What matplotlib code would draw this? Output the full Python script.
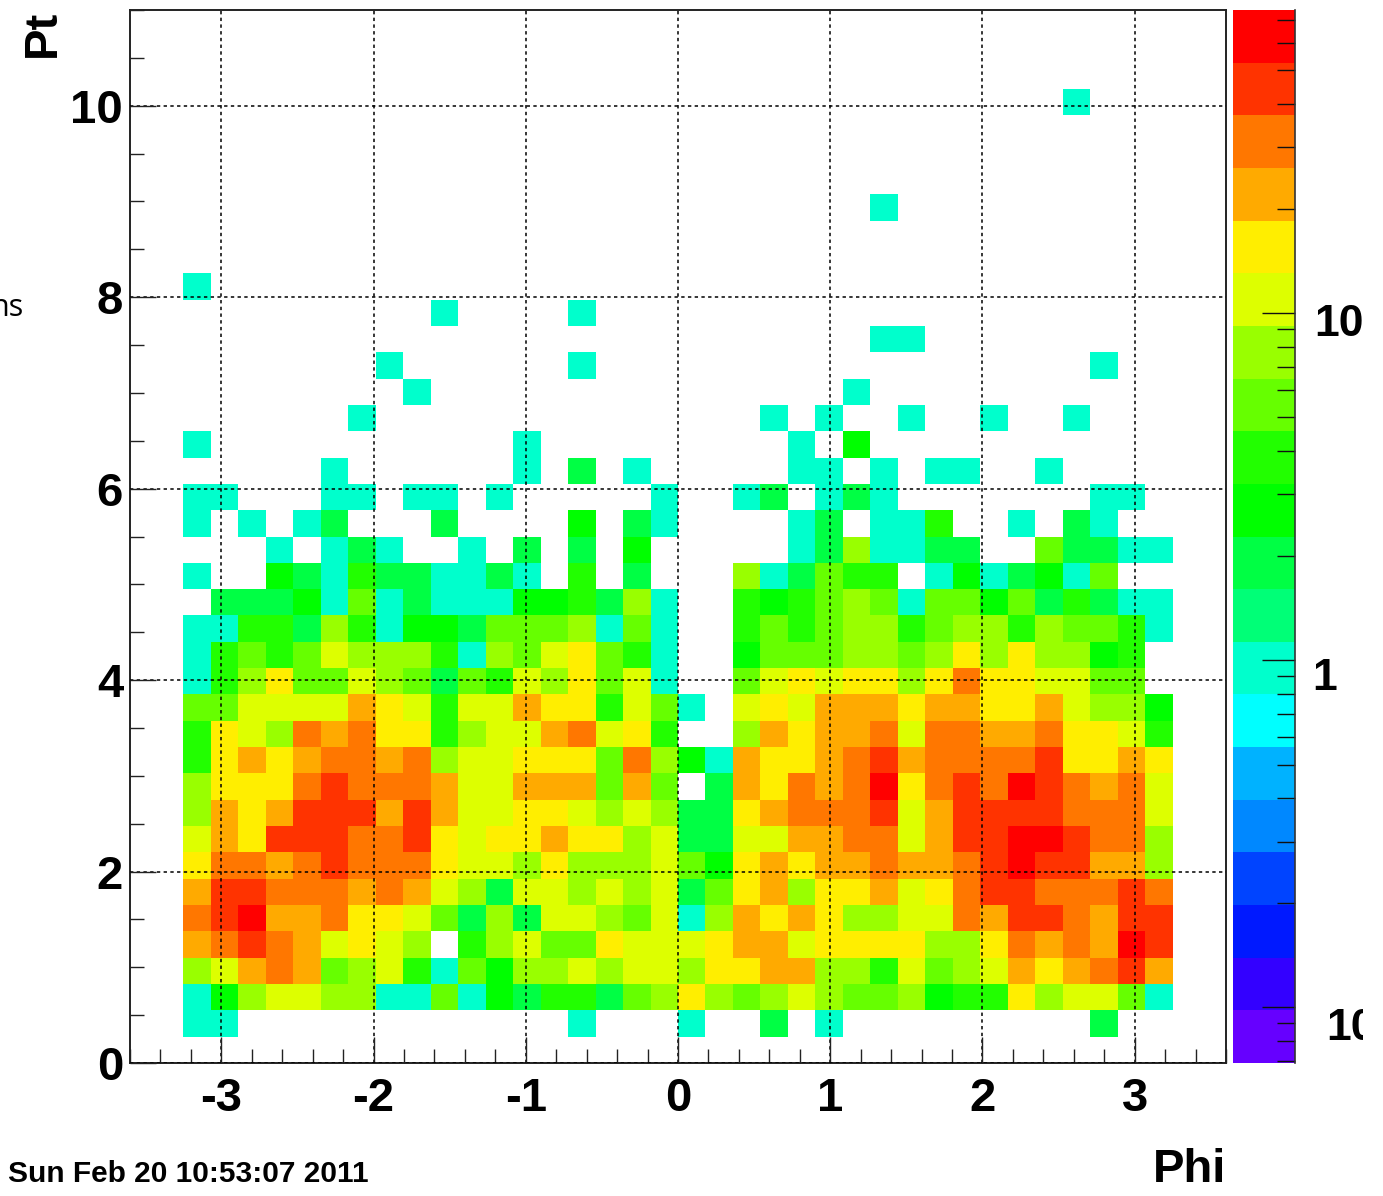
import numpy as np
import matplotlib
matplotlib.use("Agg")
import matplotlib.pyplot as plt
from matplotlib.colors import ListedColormap, BoundaryNorm
from matplotlib.ticker import LogLocator, MultipleLocator, NullFormatter
from matplotlib.transforms import Bbox

plt.rcParams['font.family'] = ['Liberation Sans', 'DejaVu Sans']
plt.rcParams['axes.unicode_minus'] = False

W, H = 1383, 1196
palette = ['#6600FF', '#3300FF', '#0019FF', '#0044FF', '#0088FF', '#00B2FF', '#00FFFF', '#00FFCC',
           '#00FF77', '#00FF44', '#00FF00', '#22FF00', '#66FF00', '#99FF00', '#DDFF00', '#FFEE00',
           '#FFAA00', '#FF7700', '#FF3300', '#FF0000']

phi_min, phi_max, n_phi = -3.25, 3.25, 36
pt_min, pt_max, n_pt = 0.0, 11.0, 40

row_01 = [1,1,0,0,0,0,0,0,0,0,0,0,0,0,1,0,0,0, 1,0,0,2,0,1,0,0,0,0,0,0,0,0,0,2,0,0]
row_02 = [1,3,7,10,10,7,7,1,1,5,1,3,2,4,4,2,5,7, 15,7,5,7,10,7,5,5,7,3,4,4,15,7,10,10,5,1]
row_03 = [7,10,22,30,22,5,7,10,4,1,5,3,7,7,10,7,10,10, 7,15,15,22,22,7,7,4,10,5,7,10,22,15,22,30,42,22]
row_04 = [22,30,42,30,22,10,15,10,7,0,4,7,10,5,5,15,10,10, 10,15,22,22,10,15,15,15,15,7,7,15,30,22,30,22,60,42]
row_05 = [30,42,60,22,22,30,15,15,10,5,2,7,2,10,10,7,5,10, 1,7,22,15,22,15,7,7,10,10,30,22,42,42,30,22,42,42]
row_06 = [22,42,42,30,30,30,22,30,22,10,7,2,10,10,7,10,7,10, 2,5,15,22,7,15,15,22,10,15,30,42,42,30,30,30,42,30]
row_07 = [15,30,30,22,30,42,30,30,30,15,10,10,7,15,7,7,7,10, 5,3,15,22,15,22,22,30,22,22,30,42,60,42,42,22,22,7]
row_08 = [10,22,15,42,42,42,30,30,42,15,10,15,15,22,15,15,7,10, 2,2,10,10,22,22,30,30,10,22,42,42,60,60,42,30,30,7]
row_09 = [7,22,15,22,42,42,42,22,42,22,10,10,15,15,10,7,10,7, 2,2,15,22,30,30,30,42,10,22,42,42,42,42,30,30,30,10]
row_10 = [7,15,15,15,30,42,30,30,30,22,10,10,22,22,22,5,22,5, 0,2,22,15,30,22,30,60,15,30,42,30,60,42,30,22,30,10]
row_11 = [4,15,22,15,22,30,30,22,30,7,10,10,15,15,15,5,30,7, 3,1,22,15,15,22,30,42,22,30,30,30,30,42,15,15,22,15]
row_12 = [4,15,10,7,30,22,30,15,15,4,7,10,10,22,30,10,15,4, 0,0,7,22,15,22,22,30,10,30,30,22,22,30,15,15,10,4]
row_13 = [5,5,10,10,10,10,22,15,10,4,10,10,22,15,15,4,10,5, 1,0,10,15,10,22,22,22,15,22,22,15,15,22,10,7,7,3]
row_14 = [1,4,7,15,5,5,10,7,5,2,5,4,10,7,15,5,10,1, 0,0,5,10,15,10,15,15,7,15,30,15,15,10,10,5,5,0]
row_15 = [1,4,5,4,5,10,7,7,7,4,1,7,5,10,15,5,4,1, 0,0,3,5,5,5,7,7,5,7,15,7,15,7,7,3,4,0]
row_16 = [1,1,4,4,2,7,4,1,3,3,2,5,5,5,7,1,5,1, 0,0,4,5,4,5,7,7,4,5,7,7,4,7,5,5,4,1]
row_17 = [0,2,2,2,3,1,5,1,2,1,1,1,3,3,4,2,7,1, 0,0,4,3,4,5,7,5,1,5,5,3,5,2,4,2,1,1]
row_18 = [1,0,0,3,2,1,4,2,2,1,1,2,1,0,4,0,2,0, 0,0,7,1,2,5,4,4,0,1,3,1,2,3,1,5,0,0]
row_19 = [0,0,0,1,0,1,2,1,0,0,1,0,2,0,2,0,3,0, 0,0,0,0,1,2,7,1,1,2,2,0,0,5,2,2,1,1]
row_20 = [1,0,1,0,1,2,0,0,0,2,0,0,0,0,3,0,2,1, 0,0,0,0,1,2,0,1,1,4,0,0,1,0,2,1,0,0]
row_21 = [1,1,0,0,0,1,1,0,1,1,0,1,0,0,0,0,0,1, 0,0,1,2,0,1,2,1,0,0,0,0,0,0,0,1,1,0]
row_22 = [0,0,0,0,0,1,0,0,0,0,0,0,1,0,2,0,1,0, 0,0,0,0,1,1,0,1,0,1,1,0,0,1,0,0,0,0]
row_23 = [1,0,0,0,0,0,0,0,0,0,0,0,1,0,0,0,0,0, 0,0,0,0,1,0,3,0,0,0,0,0,0,0,0,0,0,0]
row_24 = [0,0,0,0,0,0,1,0,0,0,0,0,0,0,0,0,0,0, 0,0,0,1,0,1,0,0,1,0,0,1,0,0,1,0,0,0]
row_25 = [0,0,0,0,0,0,0,0,1,0,0,0,0,0,0,0,0,0, 0,0,0,0,0,0,1,0,0,0,0,0,0,0,0,0,0,0]
row_26 = [0,0,0,0,0,0,0,1,0,0,0,0,0,0,1,0,0,0, 0,0,0,0,0,0,0,0,0,0,0,0,0,0,0,1,0,0]
row_27 = [0,0,0,0,0,0,0,0,0,0,0,0,0,0,0,0,0,0, 0,0,0,0,0,0,0,1,1,0,0,0,0,0,0,0,0,0]
row_28 = [0,0,0,0,0,0,0,0,0,1,0,0,0,0,1,0,0,0, 0,0,0,0,0,0,0,0,0,0,0,0,0,0,0,0,0,0]
row_29 = [1,0,0,0,0,0,0,0,0,0,0,0,0,0,0,0,0,0, 0,0,0,0,0,0,0,0,0,0,0,0,0,0,0,0,0,0]
row_32 = [0,0,0,0,0,0,0,0,0,0,0,0,0,0,0,0,0,0, 0,0,0,0,0,0,0,1,0,0,0,0,0,0,0,0,0,0]
row_36 = [0,0,0,0,0,0,0,0,0,0,0,0,0,0,0,0,0,0, 0,0,0,0,0,0,0,0,0,0,0,0,0,0,1,0,0,0]

filled = {1: row_01, 2: row_02, 3: row_03, 4: row_04, 5: row_05, 6: row_06, 7: row_07, 8: row_08,
          9: row_09, 10: row_10, 11: row_11, 12: row_12, 13: row_13, 14: row_14, 15: row_15,
          16: row_16, 17: row_17, 18: row_18, 19: row_19, 20: row_20, 21: row_21, 22: row_22,
          23: row_23, 24: row_24, 25: row_25, 26: row_26, 27: row_27, 28: row_28, 29: row_29,
          32: row_32, 36: row_36}

counts = np.zeros((n_pt, n_phi))
for r, vals in filled.items():
    counts[r] = vals
counts = np.ma.masked_equal(counts, 0)

phi_edges = np.linspace(phi_min, phi_max, n_phi + 1)
pt_edges = np.linspace(pt_min, pt_max, n_pt + 1)

log_lo, log_hi = -1.161, 1.873
bounds = np.logspace(log_lo, log_hi, 21)
cmap = ListedColormap(palette)
norm = BoundaryNorm(bounds, 20)

fig = plt.figure(figsize=(W / 100, H / 100), dpi=100)


def box(l, t, r, b):
    return [l / W, 1 - b / H, (r - l) / W, (b - t) / H]


ax = fig.add_axes(box(130, 10, 1226, 1063))
ax.pcolormesh(phi_edges, pt_edges, counts, cmap=cmap, norm=norm, rasterized=True)
ax.set_xlim(-3.6, 3.6)
ax.set_ylim(0, 11)
ax.set_xticks([-3, -2, -1, 0, 1, 2, 3])
ax.set_yticks([0, 2, 4, 6, 8, 10])
ax.xaxis.set_minor_locator(MultipleLocator(0.2))
ax.yaxis.set_minor_locator(MultipleLocator(0.5))
ax.grid(True, which='major', color='black', linestyle=(0, (2.2, 2.2)), linewidth=1.1)
ax.set_axisbelow(False)
ax.tick_params(axis='both', which='major', direction='in', length=19, width=1.0, color='#222222')
ax.tick_params(axis='both', which='minor', direction='in', length=10, width=1.0, color='#222222')
ax.tick_params(axis='x', which='major', pad=10, labelsize=34)
ax.tick_params(axis='y', which='major', pad=5, labelsize=34)
for lab in ax.get_xticklabels() + ax.get_yticklabels():
    lab.set_fontweight('bold')
for s in ax.spines.values():
    s.set_linewidth(1.4)
    s.set_color('#222222')

cax = fig.add_axes(box(1233, 10, 1295, 1063))
cax.pcolormesh([0, 1], bounds, np.sqrt(bounds[:-1] * bounds[1:])[:, None], cmap=cmap, norm=norm)
cax.set_yscale('log')
cax.set_ylim(10 ** log_lo, 10 ** log_hi)
cax.set_xlim(0, 1)
cax.set_xticks([])
cax.yaxis.tick_right()
cax.yaxis.set_major_locator(LogLocator(base=10, numticks=6))
cax.yaxis.set_minor_locator(LogLocator(base=10, subs=np.arange(2, 10), numticks=10))
cax.yaxis.set_major_formatter(NullFormatter())
cax.yaxis.set_minor_formatter(NullFormatter())
cax.tick_params(axis='y', which='major', direction='in', length=24, width=1.0, color='#111111')
cax.tick_params(axis='y', which='minor', direction='in', length=13, width=1.0, color='#111111')
for name, s in cax.spines.items():
    s.set_linewidth(1.2)
    s.set_color('#333333' if name == 'right' else '#BBBBBB')
    if name != 'right':
        s.set_visible(False)


def put(x, y, s, size, weight='bold', ha='left', va='center', rot=0, family=None):
    return fig.text(x / W, 1 - y / H, s, fontsize=size, fontweight=weight, ha=ha, va=va,
                    rotation=rot, color='black', family=family or plt.rcParams['font.family'])


put(1314, 325, '10', 32)
put(1312, 678, '1', 32)
t = put(1326, 1028, '10', 32)
t.set_clip_box(Bbox([[0, 0], [1363, H]]))
t.set_clip_on(True)
put(43, 33, 'Pt', 34, rot=90, ha='center')
put(1226, 1170, 'Phi', 34, ha='right')
put(8, 1174, 'Sun Feb 20 10:53:07 2011', 21.5)
put(-10, 308, 'ns', 22, weight='normal', family=['Open Sans', 'DejaVu Sans'])

fig.savefig('out.png', dpi=100, facecolor='white')
